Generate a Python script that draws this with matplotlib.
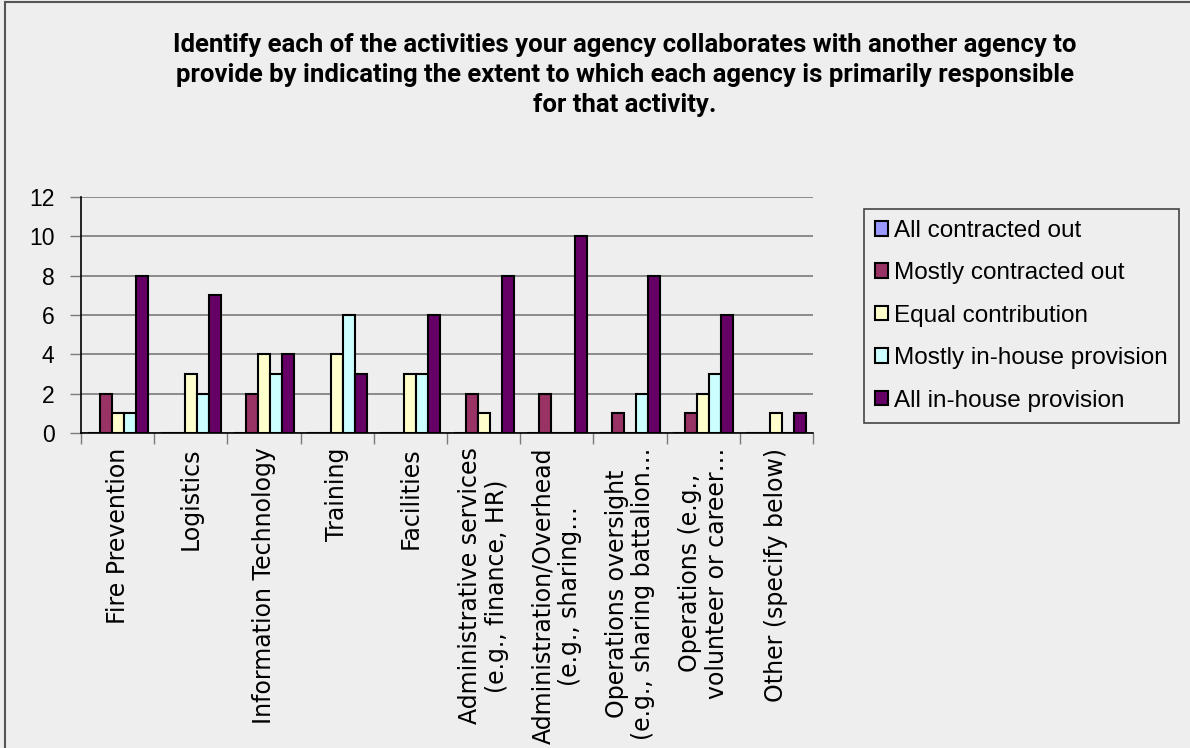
"""
collaboration-chart
  grouped bar chart of which agency is responsible for shared activities
"""

import numpy as np
import matplotlib.pyplot as plt
import matplotlib as mpl
from matplotlib.patches import Rectangle

mpl.rcParams['font.family'] = ['Liberation Sans', 'DejaVu Sans']

bg = '#eeeeee'

categories = ['Fire Prevention', 'Logistics', 'Information Technology', 'Training',
              'Facilities', 'Administrative services\n(e.g., finance, HR)',
              'Administration/Overhead\n(e.g., sharing…',
              'Operations oversight\n(e.g., sharing battalion…',
              'Operations (e.g.,\nvolunteer or career…', 'Other (specify below)']

series = ['All contracted out', 'Mostly contracted out', 'Equal contribution',
          'Mostly in-house provision', 'All in-house provision']
colors = ['#9999ff', '#993366', '#ffffcc', '#ccffff', '#660066']

all_out = [0, 0, 0, 0, 0, 0, 0, 0, 0, 0]
mostly_out = [2, 0, 2, 0, 0, 2, 2, 1, 1, 0]
equal = [1, 3, 4, 4, 3, 1, 0, 0, 2, 1]
mostly_in = [1, 2, 3, 6, 3, 0, 0, 2, 3, 0]
all_in = [8, 7, 4, 3, 6, 8, 10, 8, 6, 1]
values = [all_out, mostly_out, equal, mostly_in, all_in]

fig = plt.figure(figsize=(11.9, 7.48), dpi=100, facecolor=bg)
ax = fig.add_axes([81/1190, 1 - 433/748, (813 - 81)/1190, (433 - 197)/748])
ax.set_facecolor(bg)

x = np.arange(len(categories))
w = 0.164
for i, (name, vals) in enumerate(zip(series, values)):
    vals = np.array(vals, dtype=float)
    ax.bar(x + (i - 2) * w, vals, width=w, color=colors[i], edgecolor='black',
           linewidth=1.5, label=name, zorder=3)

ax.set_xlim(-0.5, len(categories) - 0.5)
ax.set_ylim(0, 12)
ax.set_yticks(range(0, 13, 2))
ax.yaxis.grid(True, color='#7a7a7a', linewidth=1.2, zorder=0)
ax.tick_params(axis='y', labelsize=16.5, length=8, width=1, color='#7a7a7a', pad=11)

# x ticks at category boundaries, labels at the centres
ax.set_xticks(np.arange(-0.5, len(categories), 1.0))
ax.set_xticklabels([])
ax.tick_params(axis='x', which='major', length=8, width=1, color='#7a7a7a')
ax.set_xticks(x, minor=True)
ax.set_xticklabels(categories, minor=True, rotation=90, fontsize=17,
                   family=['DejaVu Sans'], ha='center', va='top',
                   multialignment='center', linespacing=1.15)
ax.tick_params(axis='x', which='minor', length=0, pad=10.5)

for s in ['top', 'right']:
    ax.spines[s].set_visible(False)
ax.spines['left'].set_linewidth(1.2)
ax.spines['bottom'].set_linewidth(1.2)

fig.text(0.525, 1 - 33/748,
         'Identify each of the activities your agency collaborates with another agency to\n'
         'provide by indicating the extent to which each agency is primarily responsible\n'
         'for that activity.', ha='center', va='top', fontsize=18.5, fontweight='bold',
         family=['Roboto', 'DejaVu Sans'], linespacing=1.32)

leg = ax.legend(loc='upper left', bbox_to_anchor=(864/1190, 1 - 209/748),
                bbox_transform=fig.transFigure, fontsize=17.5, frameon=True,
                fancybox=False, edgecolor='#444444', facecolor=bg, framealpha=1,
                handlelength=0.55, handleheight=0.55, handletextpad=0.25,
                labelspacing=0.84, borderpad=0.45, borderaxespad=0)
leg.get_frame().set_linewidth(1.2)

fig.patches.append(Rectangle((5/1190, -0.1), 1.2, 1.1 - 2/748, transform=fig.transFigure,
                             fill=False, edgecolor='#555555', linewidth=1.5))

fig.savefig('out.png', dpi=100, facecolor=bg)
